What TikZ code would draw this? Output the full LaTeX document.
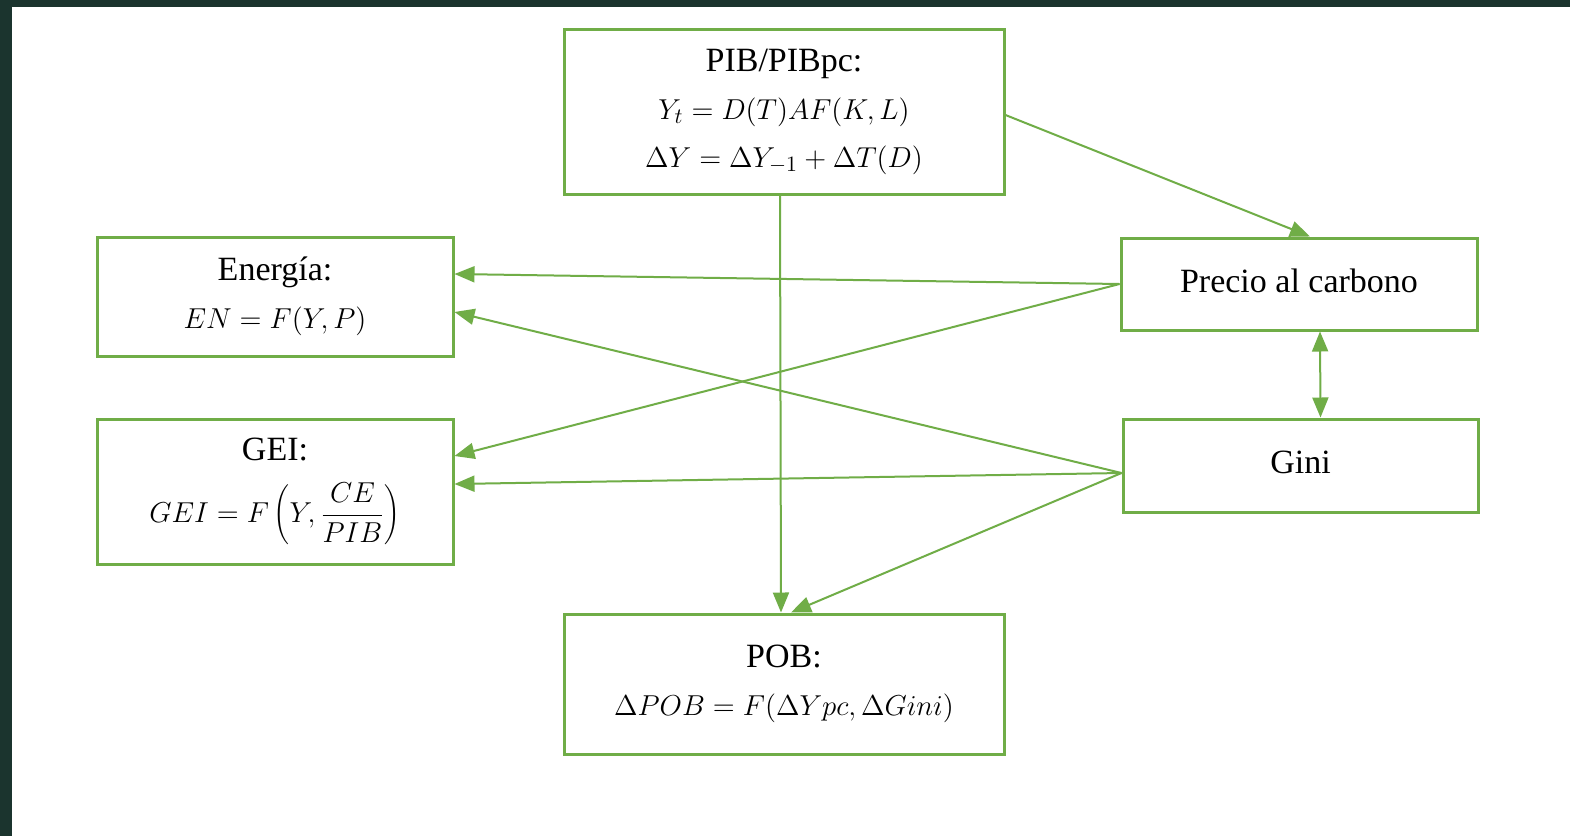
\documentclass[tikz,border=0pt]{standalone}
\usepackage{fontspec}
\setmainfont{Liberation Serif}
\usetikzlibrary{arrows.meta}
\definecolor{verde}{HTML}{70AD47}
\definecolor{moldura}{HTML}{1B342E}
\newcommand{\eqcaixa}[1]{{\fontsize{15.5}{24}\selectfont$#1$}}
\begin{document}
\begin{tikzpicture}[x=0.5pt,y=-0.5pt,
    caixa/.style={draw=verde, line width=1.5pt, align=center, inner sep=0pt,
        font=\fontsize{17}{24}\selectfont},
    seta/.style={draw=verde, line width=1pt, -{Triangle[length=10pt,width=8pt]}}]
    \fill[moldura] (0,0) rectangle (1570,836);
    \fill[white] (12,7) rectangle (1570,836);
    \useasboundingbox (0,0) rectangle (1570,836);
    % caixas
    \node[caixa, minimum width=220pt, minimum height=82.5pt] (pib) at (784,111.5)
        {PIB/PIBpc:\\ \eqcaixa{Y_t = D(T)AF(K,L)}\\ \eqcaixa{\Delta Y = \Delta Y_{-1} + \Delta T(D)}};
    \node[caixa, minimum width=178pt, minimum height=59.5pt] (energia) at (275,296.5)
        {Energía:\\ \eqcaixa{EN = F(Y,P)}};
    \node[caixa, minimum width=178pt, minimum height=72.5pt] (gei) at (275,491.5)
        {GEI:\\[7pt] \eqcaixa{GEI = F\left(Y,{\displaystyle\frac{CE}{PIB}}\right)}};
    \node[caixa, minimum width=178pt, minimum height=46pt] (precio) at (1299,284) {\raisebox{3pt}{Precio al carbono}};
    \node[caixa, minimum width=177.5pt, minimum height=46.5pt] (gini) at (1300.5,465.5) {\raisebox{3pt}{Gini}};
    \node[caixa, minimum width=220pt, minimum height=70pt] (pob) at (784,684)
        {POB:\\ \eqcaixa{\Delta POB = F(\Delta Ypc, \Delta Gini)}};
    % flechas
    \draw[seta] ([yshift=-1.75pt]pib.east) -- ([xshift=5.5pt]precio.north);
    \draw[seta] ([xshift=-2pt]pib.south) -- ([xshift=-1.5pt]pob.north);
    \draw[seta] (precio.west) -- ([yshift=11.25pt]energia.east);
    \draw[seta] (precio.west) -- ([yshift=17.75pt]gei.east);
    \foreach \dest/\dx/\dy in {energia.east/0/-7.75, gei.east/0/3.75, pob.north/3.5/0}{
        \draw[seta] ([yshift=-3.75pt]gini.west) -- ([xshift=\dx pt, yshift=\dy pt]\dest);
    }
    \draw[seta, {Triangle[length=10pt,width=8pt]}-{Triangle[length=10pt,width=8pt]}]
        ([xshift=10.5pt]precio.south) -- ([xshift=10pt]gini.north);
\end{tikzpicture}
\end{document}
